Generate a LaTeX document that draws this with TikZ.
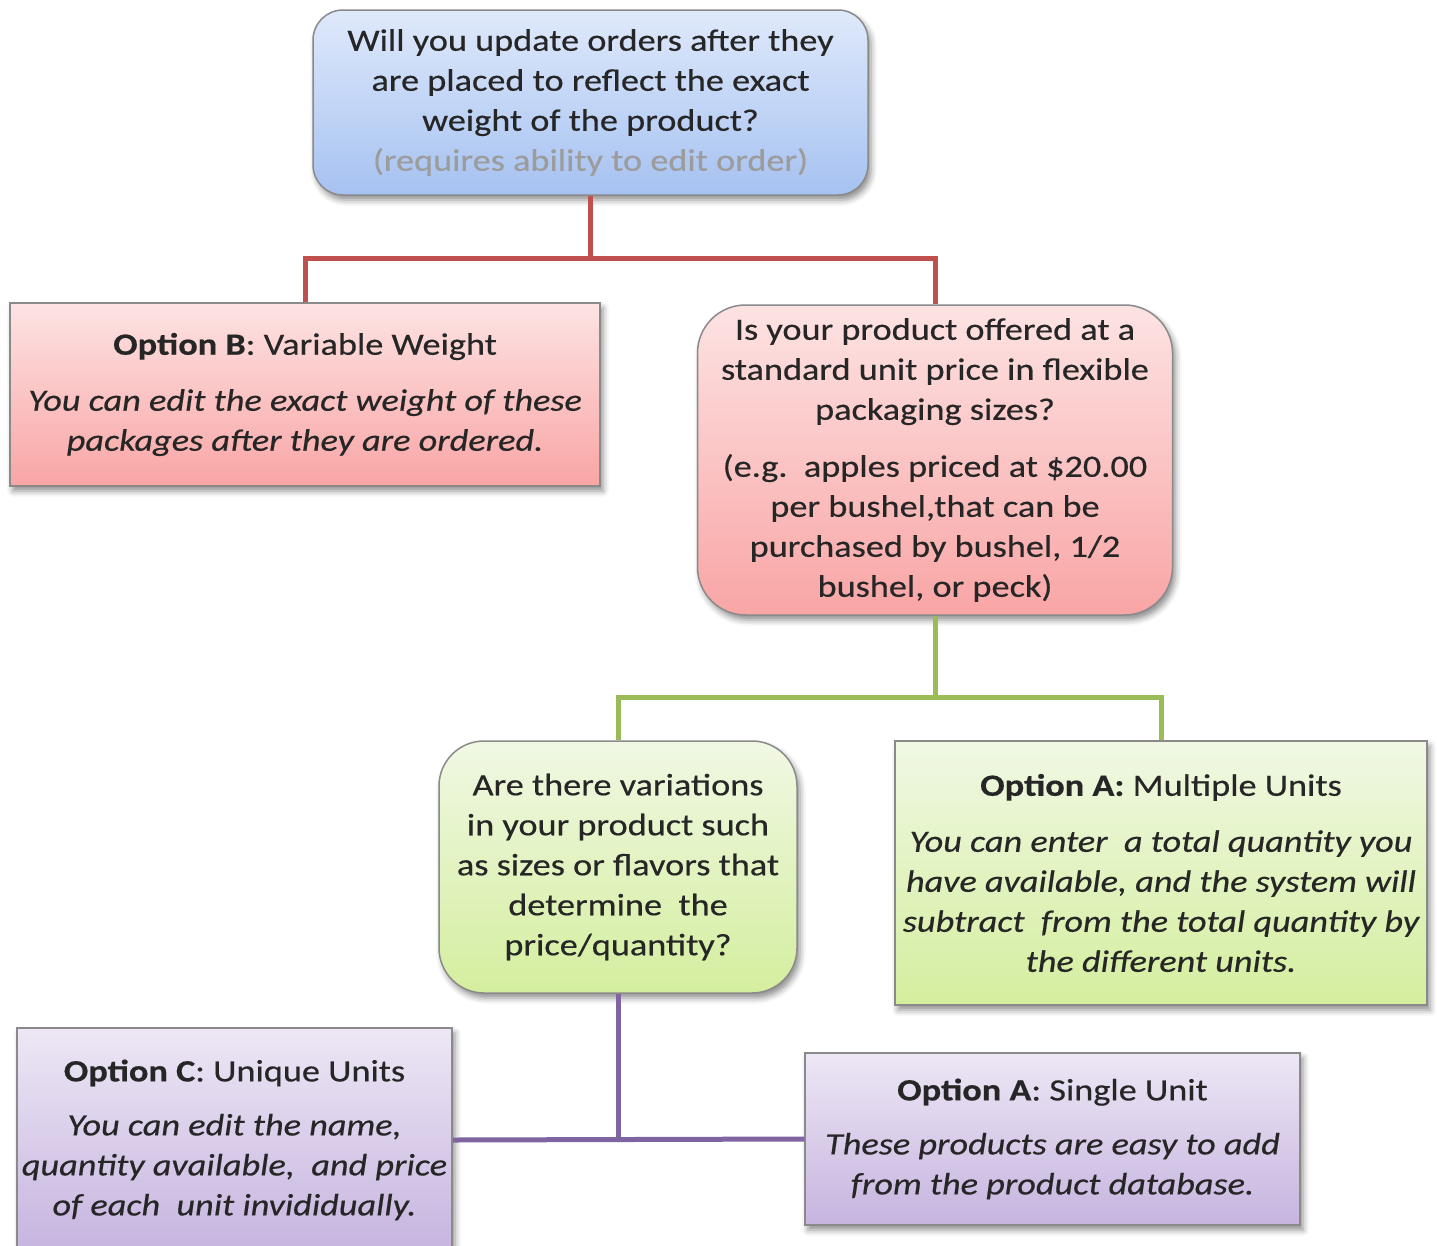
\documentclass[tikz,border=0pt]{standalone}
\usepackage{fontspec}
\setmainfont{Carlito}[FakeStretch=1.17, FakeBold=0.4]
\usetikzlibrary{shadows.blur}
\definecolor{txt}{HTML}{262626}
\definecolor{edge}{HTML}{8A8A8A}
\definecolor{greytxt}{HTML}{9C9C9C}
\definecolor{redline}{HTML}{C0504D}
\definecolor{greenline}{HTML}{9BBB59}
\definecolor{purpleline}{HTML}{8064A2}
\definecolor{blueT}{HTML}{DFE9FB}
\definecolor{blueB}{HTML}{A6C2F1}
\definecolor{redT}{HTML}{FDE3E3}
\definecolor{redB}{HTML}{F9A5A5}
\definecolor{greenT}{HTML}{F0F8E4}
\definecolor{greenB}{HTML}{D4EE9E}
\definecolor{purpleT}{HTML}{EDE7F5}
\definecolor{purpleB}{HTML}{C6B4DF}
\begin{document}
\begin{tikzpicture}[x=1pt,y=-1pt,
  boxbase/.style={draw=edge, line width=1.5pt, align=center, inner sep=0pt,
    text=txt, font=\fontsize{31}{40}\selectfont,
    blur shadow={shadow xshift=3pt, shadow yshift=-5pt, shadow blur radius=6pt, shadow opacity=45}},
  bluebox/.style={boxbase, rounded corners=30pt, top color=blueT, bottom color=blueB},
  redround/.style={boxbase, rounded corners=48pt, top color=redT, bottom color=redB},
  redrect/.style={boxbase, top color=redT, bottom color=redB},
  greenround/.style={boxbase, rounded corners=45pt, top color=greenT, bottom color=greenB},
  greenrect/.style={boxbase, top color=greenT, bottom color=greenB},
  purplerect/.style={boxbase, top color=purpleT, bottom color=purpleB},
  conn/.style={line width=5pt},
]
\useasboundingbox (0,0) rectangle (1437,1245);

% nodes
\node[bluebox, minimum width=555pt, minimum height=185pt] (top) at (590.5,102.5)
  {Will you update orders after they\\ are placed to reflect the exact\\ weight of the product?\\ \textcolor{greytxt}{(requires ability to edit order)}};

\node[redrect, minimum width=590pt, minimum height=183pt] (optB) at (305,394.5)
  {\textbf{Option B}: Variable Weight\\[16pt] \itshape You can edit the exact weight of these\\ \itshape packages after they are ordered.};

\node[redround, minimum width=475pt, minimum height=310pt] (q2) at (935,460)
  {Is your product offered at a\\ standard unit price in flexible\\ packaging sizes?\\[17pt] (e.g.\ \ apples priced at \$20.00\\ per bushel,that can be\\ purchased by bushel, 1/2\\ bushel, or peck)};

\node[greenround, minimum width=358pt, minimum height=252pt] (gq) at (618,867)
  {Are there variations\\ in your product such\\ as sizes or flavors that\\ determine\ \ the\\ price/quantity?};

\node[greenrect, minimum width=532pt, minimum height=264pt] (optAm) at (1161,873)
  {\textbf{Option A:} Multiple Units\\[16pt] \itshape You can enter\ \ a total quantity you\\ \itshape have available, and the system will\\ \itshape subtract\ \ from the total quantity by\\ \itshape the different units.};

\node[purplerect, minimum width=435pt, minimum height=224pt] (optC) at (234.5,1140)
  {\textbf{Option C}: Unique Units\\[14pt] \itshape You can edit the name,\\ \itshape quantity available,\ \ and price\\ \itshape of each\ \ unit invididually.};

\node[purplerect, minimum width=495pt, minimum height=172pt] (optAs) at (1052.5,1139)
  {\textbf{Option A}: Single Unit\\[14pt] \itshape These products are easy to add\\ \itshape from the product database.};

% connectors
\coordinate (j1) at (top.south |- 0,258);
\draw[conn, redline] (top.south) -- (j1);
\draw[conn, redline] (optB.north) |- (j1) -| (q2.north);

\coordinate (j2) at (q2.south |- 0,697);
\draw[conn, greenline] (q2.south) -- (j2);
\draw[conn, greenline] (gq.north) |- (j2) -| (optAm.north);

\draw[conn, purpleline] (gq.south) -- (gq.south |- optC.east);
\draw[conn, purpleline] (optC.east) -- (optAs.west);
\end{tikzpicture}
\end{document}
